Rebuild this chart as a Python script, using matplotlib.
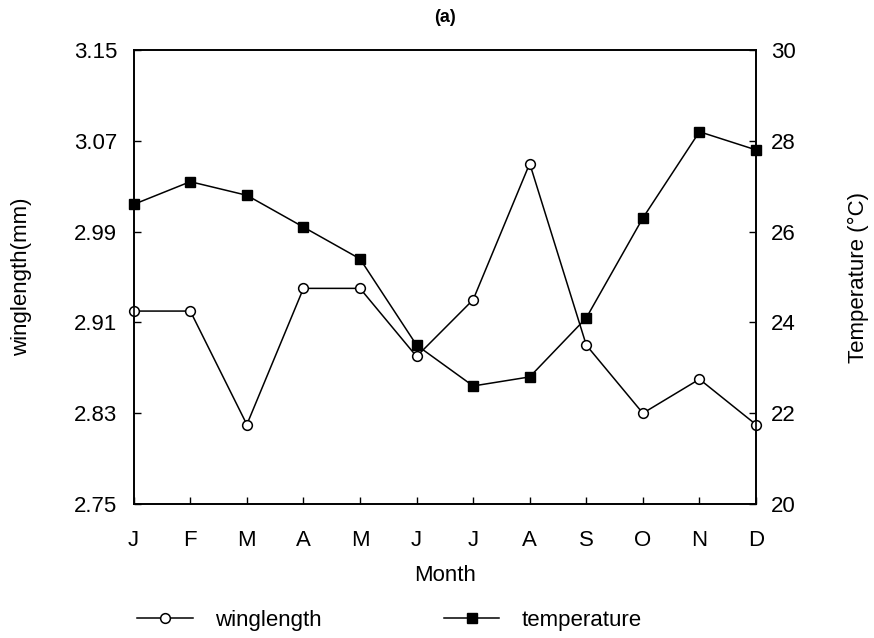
import matplotlib.pyplot as plt

plt.rcParams['font.family'] = ['Liberation Sans', 'DejaVu Sans']

months = ["J", "F", "M", "A", "M", "J", "J", "A", "S", "O", "N", "D"]
winglength = [2.92, 2.92, 2.82, 2.94, 2.94, 2.88, 2.93, 3.05, 2.89, 2.83, 2.86, 2.82]
temperature = [26.6, 27.1, 26.8, 26.1, 25.4, 23.5, 22.6, 22.8, 24.1, 26.3, 28.2, 27.8]
wing_ticks = [2.75, 2.83, 2.91, 2.99, 3.07, 3.15]
temp_ticks = [20, 22, 24, 26, 28, 30]

fig = plt.figure(figsize=(8.74, 6.38), dpi=100)
ax = fig.add_axes([0.153, 0.21, 0.712, 0.7116])
ax2 = ax.twinx()

x = list(range(len(months)))
l1, = ax.plot(x, winglength, color="black", lw=1.1, marker="o", ms=7,
              mfc="white", mec="black", mew=1.1, label="winglength", clip_on=False, zorder=3)
l2, = ax2.plot(x, temperature, color="black", lw=1.1, marker="s", ms=6.5,
               mfc="black", mec="black", label="temperature", clip_on=False, zorder=3)

ax.set_xlim(0, 11)
ax.set_ylim(2.75, 3.15)
ax2.set_ylim(20, 30)
ax.set_xticks(x)
ax.set_xticklabels(months)
ax.set_yticks(wing_ticks)
ax.set_yticklabels([f"{v:.2f}" for v in wing_ticks])
ax2.set_yticks(temp_ticks)

for a in (ax, ax2):
    a.tick_params(direction="in", length=5, width=1, labelsize=16)
    for s in a.spines.values():
        s.set_linewidth(1.2)
ax.tick_params(axis="y", pad=12)
ax.tick_params(axis="x", pad=19)
ax2.tick_params(axis="y", pad=11)

ax.set_xlabel("Month", fontsize=16, labelpad=10)
ax.set_ylabel("winglength(mm)", fontsize=16, labelpad=30)
ax2.set_ylabel("Temperature (\u00b0C)", fontsize=16, labelpad=37)
ax.set_title("(a)", fontsize=13, fontweight="bold", pad=20)

fig.legend(handles=[l1, l2], loc="center left", bbox_to_anchor=(0.157, 0.028), ncol=2,
           frameon=False, fontsize=16, handlelength=2.5, columnspacing=5.5, handletextpad=1.0,
           borderpad=0, borderaxespad=0)

fig.savefig("out.png", dpi=100)
